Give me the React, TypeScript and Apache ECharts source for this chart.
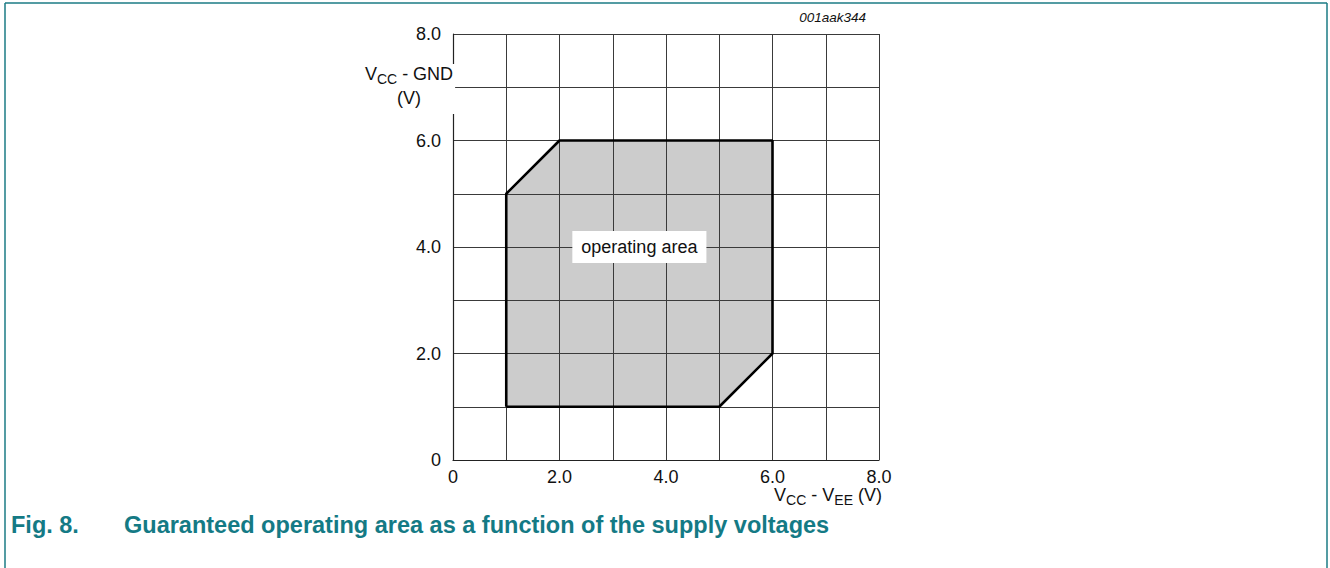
import React, { useEffect, useRef } from "react";
import * as echarts from "echarts";

const AREA_X = [1, 1, 2, 6, 6, 5];
const AREA_Y = [1, 5, 6, 6, 2, 1];
const AXIS_MIN = 0;
const AXIS_MAX = 8;
const AXIS_STEP = 1;
const LABEL_POS = [3.5, 4.0];
const LABEL_TEXT = "operating area";
const CAPTION_NUM = "Fig. 8.";
const CAPTION_TITLE = "Guaranteed operating area as a function of the supply voltages";
const FIG_ID = "001aak344";

const fmt = (v: number) => (v % 2 !== 0 ? "" : v === 0 ? "0" : v.toFixed(1));
const FONT = "Liberation Sans, Arial, sans-serif";

export default function App() {
  const ref = useRef<HTMLDivElement>(null);
  useEffect(() => {
    document.body.style.margin = "0";
    const chart = echarts.init(ref.current!, undefined, { renderer: "svg" });
    const teal = "#1b7b84";
    const loop = AREA_X.map((x, i) => [x, AREA_Y[i]]);
    const outline = [...loop, loop[0]];
    const axisCommon = {
      type: "value",
      min: AXIS_MIN,
      max: AXIS_MAX,
      interval: AXIS_STEP,
      z: 3,
      axisLine: { show: true, lineStyle: { color: "#222", width: 1.2 } },
      axisTick: { show: false },
      splitLine: { show: true, lineStyle: { color: "#3a3a3a", width: 1 } },
    };
    const rich = {
      n: { fontSize: 18, lineHeight: 24, fill: "#111", fontFamily: FONT, verticalAlign: "top" },
      s: { fontSize: 14, lineHeight: 24, fill: "#111", fontFamily: FONT, verticalAlign: "top", padding: [7, 0, 0, 0] },
    };
    const capStyle = {
      verticalAlign: "middle",
      fontSize: 23.5,
      fontWeight: "bold",
      fill: "#147a85",
      fontFamily: FONT,
    };
    chart.setOption({
      animation: false,
      backgroundColor: "#fff",
      grid: { left: 453, top: 34, width: 426, height: 426, show: false },
      xAxis: {
        ...axisCommon,
        axisLabel: {
          formatter: fmt,
          color: "#111",
          fontSize: 18,
          fontFamily: FONT,
          margin: 8,
          showMinLabel: true,
          showMaxLabel: true,
        },
      },
      yAxis: {
        ...axisCommon,
        axisLabel: {
          formatter: fmt,
          color: "#111",
          fontSize: 18,
          fontFamily: FONT,
          margin: 12,
          showMinLabel: true,
          showMaxLabel: true,
        },
      },
      series: [
        {
          type: "custom",
          z: 1,
          silent: true,
          data: [0],
          renderItem: (_p: any, api: any) => {
            const pts = loop.map((p) => api.coord(p));
            return {
              type: "polygon",
              shape: { points: pts },
              style: { fill: "#cccccc", stroke: "none" },
            };
          },
        },
        {
          type: "line",
          z: 5,
          silent: true,
          data: outline,
          symbol: "none",
          lineStyle: { color: "#000", width: 2.6 },
        },
        {
          type: "custom",
          z: 6,
          silent: true,
          data: [0],
          renderItem: (_p: any, api: any) => {
            const c = api.coord(LABEL_POS);
            return {
              type: "text",
              x: c[0],
              y: c[1],
              style: {
                text: LABEL_TEXT,
                align: "center",
                verticalAlign: "middle",
                fill: "#111",
                fontSize: 18,
                fontFamily: FONT,
                backgroundColor: "#fff",
                padding: [7, 9, 7, 9],
              },
            };
          },
        },
      ],
      graphic: [
        { type: "line", shape: { x1: 5, y1: 3, x2: 1327, y2: 3 }, style: { stroke: teal, lineWidth: 1.5 } },
        { type: "line", shape: { x1: 5, y1: 3, x2: 5, y2: 568 }, style: { stroke: teal, lineWidth: 1.5 } },
        { type: "line", shape: { x1: 1327, y1: 3, x2: 1327, y2: 568 }, style: { stroke: teal, lineWidth: 1.5 } },
        {
          type: "text",
          right: 1330 - 866,
          top: 10,
          style: {
            text: FIG_ID,
            fontSize: 13.5,
            fontStyle: "italic",
            fill: "#111",
            fontFamily: FONT,
          },
          z: 10,
        },
        {
          type: "text",
          x: 409,
          y: 64,
          z: 10,
          style: {
            text: "{n|V}{s|CC}{n| - GND}\n{n|(V)}",
            align: "center",
            verticalAlign: "top",
            backgroundColor: "#fff",
            padding: [1, 2, 1, 2],
            rich,
          },
        },
        {
          type: "text",
          x: 882,
          y: 486,
          z: 10,
          style: {
            text: "{n|V}{s|CC}{n| - V}{s|EE}{n| (V)}",
            align: "right",
            verticalAlign: "top",
            rich,
          },
        },
        { type: "text", x: 11, y: 525, z: 10, style: { text: CAPTION_NUM, ...capStyle } },
        { type: "text", x: 124, y: 525, z: 10, style: { text: CAPTION_TITLE, ...capStyle } },
      ],
    });
    return () => chart.dispose();
  }, []);
  return <div ref={ref} style={{ width: 1330, height: 568 }} />;
}
